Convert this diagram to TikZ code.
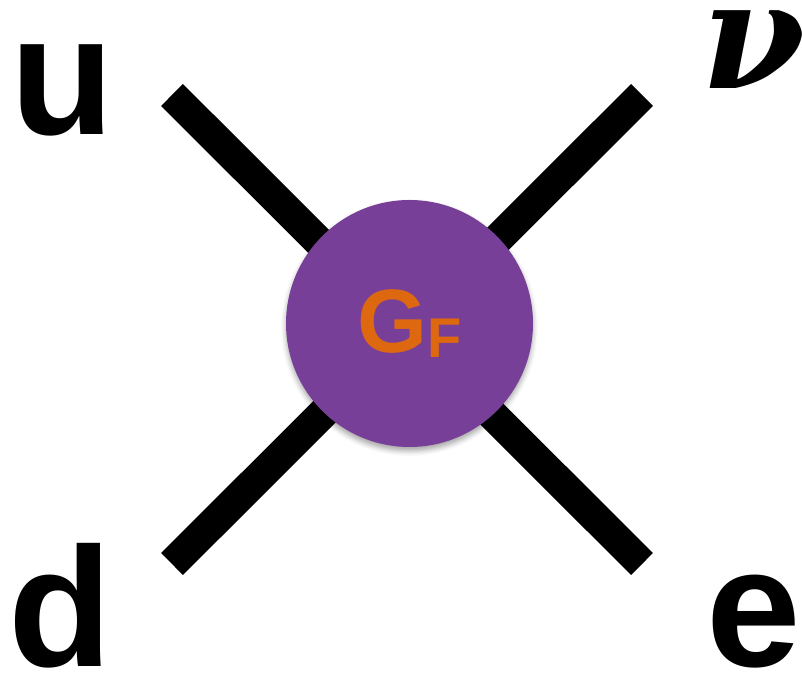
\documentclass[tikz,border=0pt]{standalone}
\usepackage{fontspec}
\setmainfont{Liberation Sans}
\newfontfamily\greekfont{DejaVu Serif}
\usepackage{tikz}
\usetikzlibrary{backgrounds,shadows.blur}

\definecolor{vtxpurple}{RGB}{120,63,152}
\definecolor{gforange}{RGB}{222,104,16}

\begin{document}
\begin{tikzpicture}[x=1pt,y=1pt,
    leg/.style={line width=31pt,black},
    lbl/.style={inner sep=0pt,font=\bfseries\fontsize{170}{170}\selectfont},
    vertex/.style={circle,fill=vtxpurple,minimum size=247pt,inner sep=0pt,
      text=gforange,font=\bfseries\fontsize{90}{90}\selectfont,
      blur shadow={shadow xshift=0pt,shadow yshift=-4pt,shadow blur radius=5pt,shadow opacity=35}}]
        \useasboundingbox (0,0) rectangle (802,676);

        % four-fermion vertex
        \node[vertex] (gf) at (409.5,352.5) {\raisebox{-3pt}{G\raisebox{-5pt}{\fontsize{56}{56}\selectfont F}}};

        \coordinate (ul) at (172,581);
        \coordinate (ur) at (642,581);
        \coordinate (ll) at (172,112);
        \coordinate (lr) at (642,112);

        \begin{scope}[on background layer]
          \draw[leg] (ul) -- (lr);
          \draw[leg] (ur) -- (ll);
        \end{scope}

        % particles
        \node[lbl,anchor=base west] (u) at (10,541) {u};
        \node[lbl,anchor=base west] (d) at (8,9) {d};
        \node[lbl,anchor=base east] (e) at (801,9) {e};
        \node[lbl,anchor=base east,font=\greekfont\bfseries\itshape\fontsize{150}{150}\selectfont] (nu) at (806,587) {ν};
      \end{tikzpicture}
\end{document}
